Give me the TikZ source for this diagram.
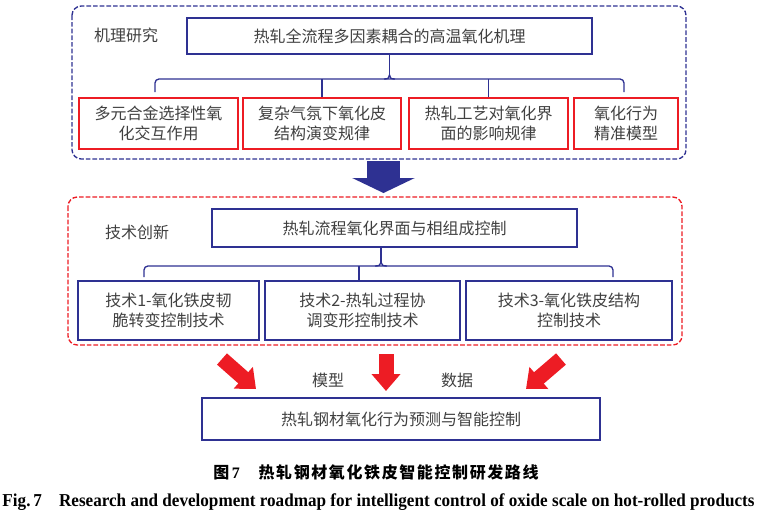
\documentclass[tikz,border=0pt]{standalone}
\usepackage{fontspec}
\usepackage{graphicx}
\setmainfont{Liberation Serif}
\newfontfamily\cjk{Noto Sans CJK SC}
\newfontfamily\cjkcap[LetterSpace=10]{Noto Sans CJK SC}
\usetikzlibrary{arrows.meta}

\tikzset{
  boxtext/.style={font=\cjk\fontsize{12}{15}\selectfont, text={rgb, 255:red, 64; green, 64; blue, 64 }, align=center, inner sep=0pt},
  bluebox/.style={boxtext, draw={rgb, 255:red, 46; green, 49; blue, 146 }, line width=1.3pt},
  redbox/.style={boxtext, draw={rgb, 255:red, 237; green, 28; blue, 36 }, line width=1.4pt},
  bluegroup/.style={draw={rgb, 255:red, 46; green, 49; blue, 146 }, line width=1pt, dash pattern=on 3.5pt off 1.5pt, rounded corners=7pt},
  redgroup/.style={draw={rgb, 255:red, 237; green, 28; blue, 36 }, line width=1pt, dash pattern=on 3.5pt off 1.5pt, rounded corners=7pt},
  bracket/.style={draw={rgb, 255:red, 46; green, 49; blue, 146 }, line width=1pt, rounded corners=3pt},
  fatblue/.style={draw={rgb, 255:red, 46; green, 49; blue, 146 }, line width=24.75pt, -{Triangle[length=11.25pt, width=46.5pt]}},
  fatred/.style={draw={rgb, 255:red, 237; green, 28; blue, 36 }, line width=11.25pt, -{Triangle[length=12.75pt, width=21pt]}}
}

\begin{document}
\begin{tikzpicture}[x=0.75pt,y=0.75pt,yscale=-1,xscale=1]
\useasboundingbox (0,0) rectangle (758,512);

%Shape: Rectangle, mechanism group
\draw [bluegroup] (72,6) rectangle (686,159) ;
\node [boxtext] (mech) at (126,35) {机理研究};
\node [bluebox, minimum width=303.75pt, minimum height=27pt] (top) at (389.5,36) {热轧全流程多因素耦合的高温氧化机理};
\node [redbox, minimum width=119.25pt, minimum height=38.25pt] (r1) at (158.5,123.5) {多元合金选择性氧\\化交互作用};
\node [redbox, minimum width=118.5pt, minimum height=38.25pt] (r2) at (322,123.5) {复杂气氛下氧化皮\\结构演变规律};
\node [redbox, minimum width=119.25pt, minimum height=38.25pt] (r3) at (488.5,123.5) {热轧工艺对氧化界\\面的影响规律};
\node [redbox, minimum width=78pt, minimum height=38.25pt] (r4) at (626,123.5) {氧化行为\\精准模型};

%Straight Lines, bracket
\draw [bracket] (155,92) -- (155,79) -- (624,79) -- (624,92) ;
\draw [bracket] (top.south) -- (top.south |- 0,75) ;
\draw [bracket, rounded corners=0pt] (384,79) .. controls (388,79) and (389.5,78) .. (389.5,75) .. controls (389.5,78) and (391,79) .. (395,79) ;
\draw [bracket] (r2.north) -- (r2.north |- 0,79) ;
\draw [bracket] (r3.north) -- (r3.north |- 0,79) ;

%Shape: Arrow
\coordinate (downA) at (383.5,161) ;
\coordinate (downB) at (383.5,193) ;
\draw [fatblue] (downA) -- (downB) ;

%Shape: Rectangle, technology group
\draw [redgroup] (68,197) rectangle (682,345) ;
\node [boxtext] (tech) at (137,232) {技术创新};
\node [bluebox, minimum width=273.75pt, minimum height=28.5pt] (mid) at (394.5,228) {热轧流程氧化界面与相组成控制};
\node [bluebox, minimum width=135.75pt, minimum height=44.25pt] (b1) at (168.5,310.5) {技术1-氧化铁皮韧\\脆转变控制技术};
\node [bluebox, minimum width=146.25pt, minimum height=44.25pt] (b2) at (362.5,310.5) {技术2-热轧过程协\\调变形控制技术};
\node [bluebox, minimum width=154.5pt, minimum height=44.25pt] (b3) at (569,310.5) {技术3-氧化铁皮结构\\控制技术};

%Straight Lines, bracket
\draw [bracket] (144,277) -- (144,266) -- (613,266) -- (613,277) ;
\draw [bracket] (381,0 |- mid.south) -- (381,262) ;
\draw [bracket, rounded corners=0pt] (375,266) .. controls (379,266) and (381,265) .. (381,262) .. controls (381,265) and (383,266) .. (387,266) ;
\draw [bracket] (359,0 |- b2.north) -- (359,266) ;

%Shape: Arrows
\coordinate (inL) at (222,359) ;
\coordinate (outL) at (256,389) ;
\coordinate (inM) at (386,354) ;
\coordinate (outM) at (386,391) ;
\coordinate (inR) at (561,359) ;
\coordinate (outR) at (526,389) ;
\draw [fatred] (inL) -- (outL) ;
\draw [fatred] (inM) -- (outM) ;
\draw [fatred] (inR) -- (outR) ;
\node [boxtext] (model) at (328,380) {模型};
\node [boxtext] (data) at (457,380) {数据};

%Shape: Rectangle, result
\node [bluebox, minimum width=298.5pt, minimum height=31.5pt] (goal) at (401,419) {热轧钢材氧化行为预测与智能控制};

%Caption
\node [anchor=west, inner sep=0pt, font=\bfseries\fontsize{12}{14}\selectfont] (cap) at (213,472) {{\cjk 图}\hspace{2pt}7\hspace{14pt}{\cjkcap 热轧钢材氧化铁皮智能控制研发路线}};
\node [anchor=base, inner sep=0pt] (capen) at (378.5,506) {\resizebox{564pt}{9.6pt}{\bfseries Fig.\,7\quad Research and development roadmap for intelligent control of oxide scale on hot-rolled products}};

\end{tikzpicture}
\end{document}
